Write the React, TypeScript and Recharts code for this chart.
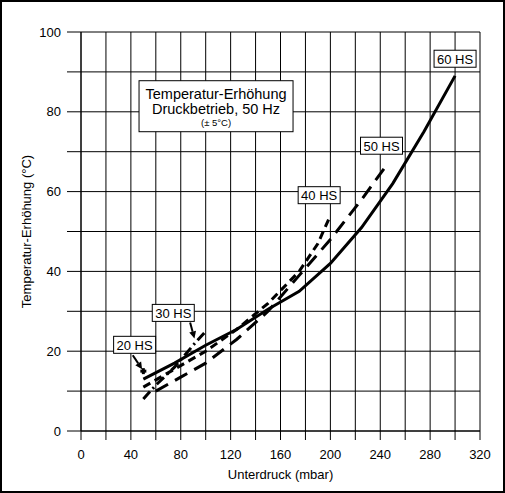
import { ComposedChart, Line, XAxis, YAxis, CartesianGrid, ReferenceDot, ReferenceLine, Label } from 'recharts'

const FONT = '"Liberation Sans", Arial, sans-serif'

const xTicks = [0, 20, 40, 60, 80, 100, 120, 140, 160, 180, 200, 220, 240, 260, 280, 300, 320]
const yTicks = [0, 10, 20, 30, 40, 50, 60, 70, 80, 90, 100]

// Unterdruck (mbar) / Temperatur-Erhöhung (°C) per pump
const hs20X = [50]
const hs20Y = [15]
const hs30X = [50, 60, 75, 90, 100]
const hs30Y = [8, 11.5, 16, 21.5, 25]
const hs40X = [50, 75, 100, 125, 150, 175, 190, 200]
const hs40Y = [11, 15.5, 20, 25.5, 32, 40, 47, 54]
const hs50X = [60, 80, 100, 125, 150, 175, 200, 225, 246]
const hs50Y = [10, 13.5, 17, 23, 30, 39, 48, 58, 67]
const hs60X = [50, 75, 100, 125, 150, 175, 200, 225, 250, 275, 300]
const hs60Y = [13, 17, 21.5, 25.5, 30.5, 35, 42, 51, 62, 75, 89]

const seriesNames = ['20 HS', '30 HS', '40 HS', '50 HS', '60 HS']
// where each name box sits, in axis units
const nameX = [43, 74, 191, 241, 300]
const nameY = [21.6, 29.6, 59.1, 71.5, 93.3]

const zip = (xs: number[], ys: number[]) => xs.map((x, i) => ({ x, y: ys[i] }))

const hs20 = zip(hs20X, hs20Y)
const hs30 = zip(hs30X, hs30Y)
const hs40 = zip(hs40X, hs40Y)
const hs50 = zip(hs50X, hs50Y)
const hs60 = zip(hs60X, hs60Y)

// arrows from the small name boxes down to their curve
const arrows = [
  [{ x: 41.5, y: 19 }, { x: 49, y: 15.5 }],
  [{ x: 87.5, y: 27.2 }, { x: 91, y: 23.2 }],
]

const NameBox = (props: any) => {
  const { cx, cy, text } = props
  const w = 42
  const h = 17
  return (
    <g>
      <rect x={cx - w / 2} y={cy - h / 2} width={w} height={h} fill="#fff" stroke="#000" strokeWidth={1} />
      <text x={cx} y={cy + 5} textAnchor="middle" fontSize={13} fontFamily={FONT} fill="#000">
        {text}
      </text>
    </g>
  )
}

const TitleBox = (props: any) => {
  const { cx, cy } = props
  const w = 154
  const h = 51
  return (
    <g>
      <rect x={cx - w / 2} y={cy - h / 2} width={w} height={h} fill="#fff" stroke="#000" strokeWidth={1} />
      <text x={cx} y={cy - 7} textAnchor="middle" fontSize={14.5} fontFamily={FONT} fill="#000">
        Temperatur-Erhöhung
      </text>
      <text x={cx} y={cy + 8} textAnchor="middle" fontSize={14.5} fontFamily={FONT} fill="#000">
        Druckbetrieb, 50 Hz
      </text>
      <text x={cx} y={cy + 20} textAnchor="middle" fontSize={9.5} fontFamily={FONT} fill="#000">
        (± 5°C)
      </text>
    </g>
  )
}

const Arrow = (props: any) => {
  const { x1, y1, x2, y2 } = props
  const dx = x2 - x1
  const dy = y2 - y1
  const len = Math.sqrt(dx * dx + dy * dy) || 1
  const ux = dx / len
  const uy = dy / len
  const hl = 7
  const hw = 3.5
  const bx = x2 - ux * hl
  const by = y2 - uy * hl
  return (
    <g>
      <line x1={x1} y1={y1} x2={bx} y2={by} stroke="#000" strokeWidth={2} />
      <polygon
        points={`${x2},${y2} ${bx - uy * hw},${by + ux * hw} ${bx + uy * hw},${by - ux * hw}`}
        fill="#000"
      />
    </g>
  )
}

const PlusDot = (props: any) => {
  const { cx, cy } = props
  if (cx == null || cy == null) return null
  return (
    <g>
      <rect x={cx - 3} y={cy - 1.5} width={6} height={3} fill="#000" />
      <rect x={cx - 1.5} y={cy - 3} width={3} height={6} fill="#000" />
    </g>
  )
}

export default function App() {
  return (
    <div style={{ position: 'absolute', left: 0, top: 0, width: 505, height: 493, background: '#fff', fontFamily: FONT }}>
      <ComposedChart width={505} height={493} margin={{ top: 32, right: 25, bottom: 0, left: 0 }}>
        <CartesianGrid stroke="#000" strokeWidth={1} horizontalValues={yTicks} verticalValues={xTicks} />
        <XAxis
          type="number"
          dataKey="x"
          domain={[0, 320]}
          ticks={xTicks}
          interval={0}
          tickFormatter={(v: number) => (v % 40 === 0 ? String(v) : '')}
          tickSize={9}
          tickMargin={10}
          height={62}
          axisLine={{ stroke: '#000' }}
          tickLine={{ stroke: '#000' }}
          tick={{ fill: '#000', fontSize: 13, fontFamily: FONT }}
        >
          <Label value="Unterdruck (mbar)" position="insideBottom" offset={14} fill="#000" fontSize={13} fontFamily={FONT} />
        </XAxis>
        <YAxis
          type="number"
          domain={[0, 100]}
          ticks={yTicks}
          interval={0}
          tickFormatter={(v: number) => (v % 20 === 0 ? String(v) : '')}
          tickSize={14}
          tickMargin={6}
          width={81}
          axisLine={{ stroke: '#000' }}
          tickLine={{ stroke: '#000' }}
          tick={{ fill: '#000', fontSize: 13, fontFamily: FONT }}
        >
          <Label
            value="Temperatur-Erhöhung (°C)"
            angle={-90}
            position="insideLeft"
            offset={26}
            style={{ textAnchor: 'middle' }}
            fill="#000"
            fontSize={13}
            fontFamily={FONT}
          />
        </YAxis>

        <Line data={hs60} dataKey="y" type="linear" stroke="#000" strokeWidth={3} dot={false} isAnimationActive={false} />
        <Line data={hs50} dataKey="y" type="linear" stroke="#000" strokeWidth={3} strokeDasharray="14 8" dot={false} isAnimationActive={false} />
        <Line data={hs40} dataKey="y" type="linear" stroke="#000" strokeWidth={3} strokeDasharray="8 5" dot={false} isAnimationActive={false} />
        <Line data={hs30} dataKey="y" type="linear" stroke="#000" strokeWidth={3} strokeDasharray="10 4 2 4" dot={false} isAnimationActive={false} />
        <Line data={hs20} dataKey="y" type="linear" stroke="#000" strokeWidth={3} dot={<PlusDot />} isAnimationActive={false} />

        {arrows.map((seg, i) => (
          <ReferenceLine key={'a' + i} segment={seg} shape={<Arrow />} ifOverflow="visible" />
        ))}

        <ReferenceDot x={108.3} y={81.4} r={0} ifOverflow="visible" shape={<TitleBox />} />
        {seriesNames.map((name, i) => (
          <ReferenceDot
            key={name}
            x={nameX[i]}
            y={nameY[i]}
            r={0}
            ifOverflow="visible"
            shape={(p: any) => <NameBox {...p} text={name} />}
          />
        ))}
      </ComposedChart>
      <div style={{ position: 'absolute', inset: 0, border: '2px solid #000', boxSizing: 'border-box', pointerEvents: 'none' }} />
    </div>
  )
}
